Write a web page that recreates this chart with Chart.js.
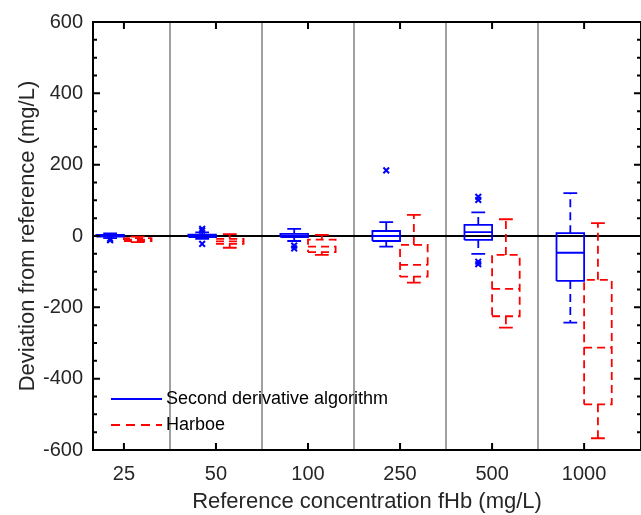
<!DOCTYPE html>
<html>
<head>
<meta charset="utf-8">
<script src="https://cdn.jsdelivr.net/npm/chart.js@4.4.0/dist/chart.umd.min.js"></script>
<style>
    html, body { margin: 0; padding: 0; background: #fff; }
    #wrap { width: 641px; height: 515px; overflow: hidden; }
</style>
</head>
<body>
<div id="wrap"><canvas id="boxChart" width="641" height="515"></canvas></div>
<script>
// Reference concentrations fHb (mg/L)
const categories = ['25', '50', '100', '250', '500', '1000'];

// Second derivative algorithm - box statistics (mg/L)
const sdLow  = [-6, -8, -14, -30, -50, -243];
const sdQ1   = [-2, -3, -3, -14, -11, -126];
const sdMed  = [0, 1, 1, 0, 11, -47];
const sdQ3   = [3, 4, 6, 14, 31, 8];
const sdHigh = [7, 10, 20, 39, 66, 120];
// Second derivative algorithm - outliers (group index, value)
const sdOutGroup = [0, 0, 1, 1, 1, 2, 2, 3, 4, 4, 4, 4];
const sdOutValue = [-12, -8, 20, 15, -22, -27, -35, 184, 110, 101, -72, -79];

// Harboe - box statistics (mg/L)
const hbLow  = [-17, -33, -53, -131, -257, -567];
const hbQ1   = [-14, -22, -45, -114, -225, -472];
const hbMed  = [-10, -15, -30, -81, -148, -313];
const hbQ3   = [-6, -8, -10, -25, -53, -123];
const hbHigh = [-2, 5, 3, 59, 47, 36];

// Layout of the boxes in category units
const BOX_HALF = 0.15;
const CAP_HALF = 0.075;
const SD_OFFSET = -0.15;
const HB_OFFSET = 0.15;

const BLUE = '#0000ff';
const RED = '#ff0000';
const TEXT = '#262626';
const DASH = [8, 5];
const FONT = '"Liberation Sans", Arial, sans-serif';

// Rectangle outlines for each box
function boxOutline(q1, q3, offset) {
    const pts = [];
    q1.forEach((lo, i) => {
        const x = i + offset;
        pts.push({x: x - BOX_HALF, y: lo}, {x: x + BOX_HALF, y: lo},
                 {x: x + BOX_HALF, y: q3[i]}, {x: x - BOX_HALF, y: q3[i]},
                 {x: x - BOX_HALF, y: lo}, {x: x, y: null});
    });
    return pts;
}

// Median lines
function medianLines(med, offset) {
    const pts = [];
    med.forEach((m, i) => {
        const x = i + offset;
        pts.push({x: x - BOX_HALF, y: m}, {x: x + BOX_HALF, y: m}, {x: x, y: null});
    });
    return pts;
}

// Whisker stems from box edge to whisker end
function whiskerStems(low, q1, q3, high, offset) {
    const pts = [];
    low.forEach((lo, i) => {
        const x = i + offset;
        pts.push({x: x, y: q3[i]}, {x: x, y: high[i]}, {x: x, y: null});
        pts.push({x: x, y: q1[i]}, {x: x, y: lo}, {x: x, y: null});
    });
    return pts;
}

// Whisker caps
function whiskerCaps(low, high, offset) {
    const pts = [];
    low.forEach((lo, i) => {
        const x = i + offset;
        pts.push({x: x - CAP_HALF, y: high[i]}, {x: x + CAP_HALF, y: high[i]}, {x: x, y: null});
        pts.push({x: x - CAP_HALF, y: lo}, {x: x + CAP_HALF, y: lo}, {x: x, y: null});
    });
    return pts;
}

function lineSet(label, data, color, dash) {
    return {
        label: label,
        data: data,
        borderColor: color,
        borderWidth: 1.8,
        borderDash: dash,
        pointRadius: 0,
        fill: false,
        spanGaps: false
    };
}

const outlierPoints = sdOutGroup.map((g, i) => ({x: g + SD_OFFSET, y: sdOutValue[i]}));

// Separators, zero line, axes box, inside ticks and legend
const decorPlugin = {
    id: 'decor',
    beforeDatasetsDraw(chart) {
        const {ctx, chartArea: a, scales: {x, y}} = chart;
        ctx.save();
        ctx.strokeStyle = '#a0a0a0';
        ctx.lineWidth = 2;
        for (let k = 0; k < categories.length - 1; k++) {
            const px = Math.round(x.getPixelForValue(k + 0.5));
            ctx.beginPath();
            ctx.moveTo(px, a.top);
            ctx.lineTo(px, a.bottom);
            ctx.stroke();
        }
        const y0 = y.getPixelForValue(0);
        ctx.strokeStyle = '#000';
        ctx.lineWidth = 2;
        ctx.beginPath();
        ctx.moveTo(a.left, y0);
        ctx.lineTo(a.right, y0);
        ctx.stroke();
        ctx.restore();
    },
    afterDraw(chart) {
        const {ctx, chartArea: a, scales: {x, y}} = chart;
        ctx.save();
        ctx.strokeStyle = '#000';
        ctx.lineWidth = 2;
        ctx.strokeRect(a.left, a.top, a.right - a.left, a.bottom - a.top);

        // y ticks: major every 200, minor every 50
        for (let v = y.min; v <= y.max; v += 50) {
            const py = y.getPixelForValue(v);
            const len = v % 200 === 0 ? 7 : 4;
            ctx.beginPath();
            ctx.moveTo(a.left, py);
            ctx.lineTo(a.left + len, py);
            ctx.moveTo(a.right, py);
            ctx.lineTo(a.right - len, py);
            ctx.stroke();
        }
        // x ticks at category centres
        categories.forEach((c, i) => {
            const px = x.getPixelForValue(i);
            ctx.beginPath();
            ctx.moveTo(px, a.bottom);
            ctx.lineTo(px, a.bottom - 7);
            ctx.moveTo(px, a.top);
            ctx.lineTo(px, a.top + 7);
            ctx.stroke();
        });

        // legend in lower-left corner
        const items = [
            {text: 'Second derivative algorithm', color: BLUE, dash: []},
            {text: 'Harboe', color: RED, dash: [9, 6]}
        ];
        ctx.font = '18px ' + FONT;
        ctx.textBaseline = 'middle';
        items.forEach((it, i) => {
            const ly = a.bottom - 51 + i * 26;
            ctx.strokeStyle = it.color;
            ctx.lineWidth = 1.8;
            ctx.setLineDash(it.dash);
            ctx.beginPath();
            ctx.moveTo(a.left + 18, ly);
            ctx.lineTo(a.left + 69, ly);
            ctx.stroke();
            ctx.setLineDash([]);
            ctx.fillStyle = '#000';
            ctx.fillText(it.text, a.left + 73, ly);
        });
        ctx.restore();
    }
};

const ctx = document.getElementById('boxChart').getContext('2d');
const boxChart = new Chart(ctx, {
    type: 'line',
    data: {
        datasets: [
            lineSet('SD stems', whiskerStems(sdLow, sdQ1, sdQ3, sdHigh, SD_OFFSET), BLUE, DASH),
            lineSet('SD caps', whiskerCaps(sdLow, sdHigh, SD_OFFSET), BLUE, []),
            lineSet('SD boxes', boxOutline(sdQ1, sdQ3, SD_OFFSET), BLUE, []),
            lineSet('SD medians', medianLines(sdMed, SD_OFFSET), BLUE, []),
            {
                type: 'scatter',
                label: 'SD outliers',
                data: outlierPoints,
                showLine: false,
                pointStyle: 'crossRot',
                pointRadius: 4,
                borderWidth: 2,
                borderColor: BLUE
            },
            lineSet('Harboe stems', whiskerStems(hbLow, hbQ1, hbQ3, hbHigh, HB_OFFSET), RED, DASH),
            lineSet('Harboe caps', whiskerCaps(hbLow, hbHigh, HB_OFFSET), RED, []),
            lineSet('Harboe boxes', boxOutline(hbQ1, hbQ3, HB_OFFSET), RED, DASH),
            lineSet('Harboe medians', medianLines(hbMed, HB_OFFSET), RED, DASH)
        ]
    },
    options: {
        responsive: false,
        animation: false,
        layout: {
            autoPadding: false,
            padding: { top: 20, right: -1, left: 0, bottom: 0 }
        },
        scales: {
            x: {
                type: 'linear',
                min: -0.336,
                max: 5.618,
                afterBuildTicks: scale => {
                    scale.ticks = categories.map((c, i) => ({ value: i }));
                },
                afterFit: scale => {
                    scale.height = 65;
                    scale.paddingLeft = 0;
                    scale.paddingRight = 0;
                },
                ticks: {
                    callback: value => categories[value],
                    color: TEXT,
                    font: { size: 20, family: FONT },
                    padding: 12,
                    maxRotation: 0
                },
                grid: { display: false, drawTicks: false },
                border: { display: false },
                title: {
                    display: true,
                    text: 'Reference concentration fHb (mg/L)',
                    color: TEXT,
                    font: { size: 22, family: FONT },
                    padding: 0
                }
            },
            y: {
                min: -600,
                max: 600,
                afterFit: scale => { scale.width = 93; },
                ticks: {
                    stepSize: 200,
                    color: TEXT,
                    font: { size: 20, family: FONT },
                    padding: 10
                },
                grid: { display: false, drawTicks: false },
                border: { display: false },
                title: {
                    display: true,
                    text: 'Deviation from reference (mg/L)',
                    color: TEXT,
                    font: { size: 22, family: FONT },
                    padding: { top: 15, bottom: 0 }
                }
            }
        },
        plugins: {
            legend: { display: false },
            tooltip: { enabled: false }
        }
    },
    plugins: [decorPlugin]
});
</script>
</body>
</html>
